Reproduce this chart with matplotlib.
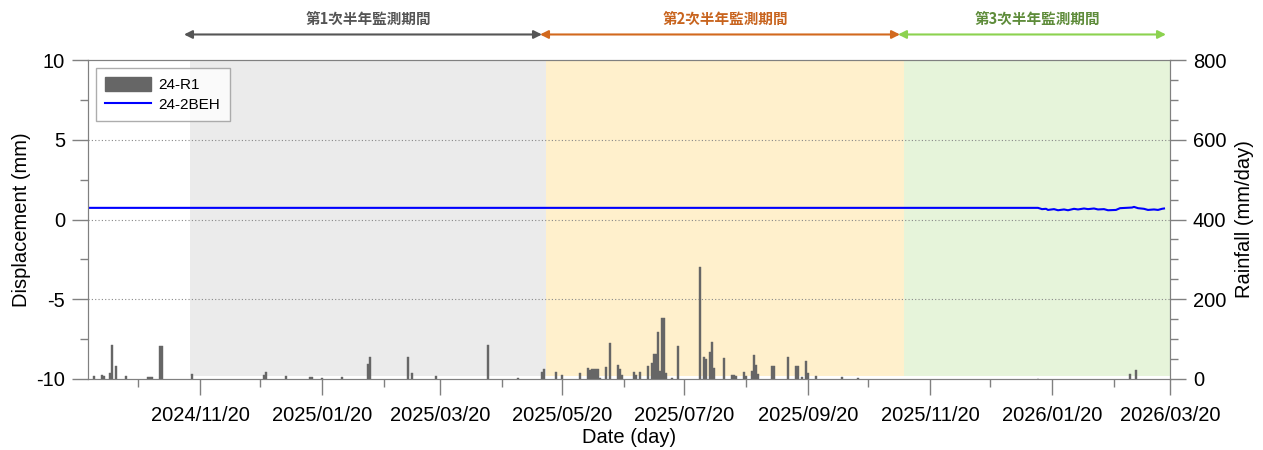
import pandas as pd
import numpy as np
import matplotlib
matplotlib.use('Agg')
import matplotlib.pyplot as plt
import matplotlib.dates as mdates
from matplotlib.patches import Patch
from matplotlib.lines import Line2D

plt.rcParams['font.family'] = ['Liberation Sans', 'Noto Sans CJK TC']
plt.rcParams['axes.unicode_minus'] = False

# 雨量 (mm/day)
rain_dates = ['2024-09-28', '2024-10-02', '2024-10-03', '2024-10-06', '2024-10-07', '2024-10-09',
              '2024-10-14', '2024-10-25', '2024-10-26', '2024-10-27', '2024-10-31', '2024-11-01',
              '2024-11-16', '2024-12-22', '2024-12-23', '2025-01-02', '2025-01-14', '2025-01-15',
              '2025-01-20', '2025-01-30', '2025-02-12', '2025-02-13', '2025-03-04', '2025-03-06',
              '2025-03-18', '2025-04-13', '2025-04-28', '2025-05-10', '2025-05-11', '2025-05-17',
              '2025-05-20', '2025-05-29', '2025-06-02', '2025-06-03', '2025-06-04', '2025-06-05',
              '2025-06-06', '2025-06-07', '2025-06-08', '2025-06-11', '2025-06-13', '2025-06-17',
              '2025-06-18', '2025-06-19', '2025-06-25', '2025-06-26', '2025-06-28', '2025-07-02',
              '2025-07-04', '2025-07-05', '2025-07-06', '2025-07-07', '2025-07-08', '2025-07-09',
              '2025-07-10', '2025-07-11', '2025-07-14', '2025-07-17', '2025-07-28', '2025-07-30',
              '2025-07-31', '2025-08-02', '2025-08-03', '2025-08-04', '2025-08-09', '2025-08-13',
              '2025-08-14', '2025-08-15', '2025-08-19', '2025-08-20', '2025-08-23', '2025-08-24',
              '2025-08-25', '2025-08-26', '2025-09-02', '2025-09-03', '2025-09-10', '2025-09-14',
              '2025-09-15', '2025-09-17', '2025-09-19', '2025-09-20', '2025-09-24', '2025-10-07',
              '2025-10-15', '2026-01-13', '2026-02-28', '2026-03-03']
rain_values = [7, 11, 8, 14, 85, 33,
               7, 5, 5, 4, 84, 83,
               13, 10, 17, 7, 4, 4,
               2, 4, 38, 56, 56, 14,
               7, 86, 2, 18, 24, 18,
               9, 16, 28, 22, 25, 25,
               25, 25, 3, 31, 91, 34,
               26, 9, 18, 10, 18, 33,
               39, 63, 63, 117, 20, 152,
               152, 14, 2, 83, 281, 56,
               50, 67, 92, 27, 52, 10,
               10, 7, 17, 7, 20, 60,
               35, 12, 32, 32, 54, 32,
               32, 4, 45, 15, 7, 4,
               3, 1, 12, 22]

# 位移 24-2BEH (mm)
disp_dates = ['2024-09-26', '2025-06-01', '2025-12-01', '2026-01-13', '2026-01-15', '2026-01-17',
              '2026-01-18', '2026-01-21', '2026-01-23', '2026-01-26', '2026-01-28', '2026-01-31',
              '2026-02-02', '2026-02-05', '2026-02-07', '2026-02-10', '2026-02-12', '2026-02-15',
              '2026-02-17', '2026-02-21', '2026-02-23', '2026-02-26', '2026-03-01', '2026-03-02',
              '2026-03-04', '2026-03-07', '2026-03-09', '2026-03-12', '2026-03-14', '2026-03-16',
              '2026-03-17']
disp_values = [0.73, 0.73, 0.73, 0.73, 0.65, 0.67, 0.60, 0.65, 0.58, 0.63, 0.58, 0.67,
               0.63, 0.69, 0.65, 0.69, 0.63, 0.65, 0.58, 0.60, 0.71, 0.73, 0.75, 0.79,
               0.71, 0.67, 0.60, 0.63, 0.60, 0.67, 0.69]

# 監測期間
period_names = ['第1次半年監測期間', '第2次半年監測期間', '第3次半年監測期間']
period_start = ['2024-11-15', '2025-05-12', '2025-11-07']
period_end = ['2025-05-12', '2025-11-07', '2026-03-20']
period_fill = ['#EBEBEB', '#FFF0CC', '#E6F4DA']
period_arrow = ['#555555', '#D2691E', '#8CD24F']
period_text = ['#555555', '#C8641E', '#5E8C3A']

rain_dates = pd.to_datetime(rain_dates)
disp_dates = pd.to_datetime(disp_dates)

fig = plt.figure(figsize=(12.63, 4.5), dpi=100)
ax = fig.add_axes([88 / 1263, 71 / 450, 1082 / 1263, 319 / 450])
ax2 = ax.twinx()

x_min = pd.Timestamp('2024-09-25')
x_max = pd.Timestamp('2026-03-20')

# 背景色塊 + 期間箭頭
for i in range(len(period_names)):
    s = pd.Timestamp(period_start[i])
    e = pd.Timestamp(period_end[i])
    ax.fill_between([s, e], -9.8, 10, color=period_fill[i], lw=0, zorder=0)
    ax.annotate('', xy=(s - pd.Timedelta(days=3), 1.08), xytext=(e - pd.Timedelta(days=2), 1.08),
                xycoords=('data', 'axes fraction'), textcoords=('data', 'axes fraction'),
                arrowprops=dict(arrowstyle='<|-|>', color=period_arrow[i], lw=1.5,
                                mutation_scale=12, shrinkA=0, shrinkB=0))
    ax.text(s + (e - s) / 2, 1.13, period_names[i], transform=ax.get_xaxis_transform(),
            ha='center', va='center', fontsize=10.5, fontweight='bold', color=period_text[i],
            family=['Noto Sans CJK TC', 'DejaVu Sans'])

for yv in [-5, 0, 5]:
    ax.axhline(yv, color='#888888', lw=0.8, ls=(0, (1, 2)), zorder=1)

ax.plot(disp_dates, disp_values, color='#0000FF', lw=1.5, zorder=3)
ax2.bar(rain_dates, rain_values, width=1.0, color='#666666', edgecolor='#666666', lw=0.3, zorder=2)

ax.set_xlim(x_min, x_max)
ax.set_ylim(-10, 10)
ax2.set_ylim(0, 800)
ax.set_yticks([-10, -5, 0, 5, 10])
ax.set_yticks([-7.5, -2.5, 2.5, 7.5], minor=True)
ax2.set_yticks([0, 200, 400, 600, 800])
ax2.set_yticks(np.arange(50, 800, 50), minor=True)

ax.xaxis.set_major_locator(mdates.MonthLocator(bymonth=[1, 3, 5, 7, 9, 11], bymonthday=20))
ax.xaxis.set_minor_locator(mdates.MonthLocator(bymonth=[2, 4, 6, 8, 10, 12], bymonthday=20))
ax.xaxis.set_major_formatter(mdates.DateFormatter('%Y/%m/%d'))

for a in [ax, ax2]:
    for sp in a.spines.values():
        sp.set_color('#808080')
    a.tick_params(which='major', length=11.5, width=1, color='#808080', labelsize=14.5, pad=5)
    a.tick_params(which='minor', length=6, width=1, color='#808080')
ax.tick_params(axis='x', which='major', pad=8)

ax.set_xlabel('Date (day)', fontsize=14.5, labelpad=2)
ax.set_ylabel('Displacement (mm)', fontsize=14.5, labelpad=4)
ax2.set_ylabel('Rainfall (mm/day)', fontsize=14.5, labelpad=6)

handles = [Patch(facecolor='#666666', edgecolor='#666666'),
           Line2D([0], [0], color='#0000FF', lw=1.5)]
leg = ax2.legend(handles, ['24-R1', '24-2BEH'], loc='upper left', fontsize=11,
                 frameon=True, fancybox=False, edgecolor='#999999', handlelength=3.0,
                 handleheight=1.0, borderpad=0.6, labelspacing=0.3, handletextpad=0.5,
                 borderaxespad=0, bbox_to_anchor=(0.0074, 0.975))
leg.get_frame().set_linewidth(1)

fig.savefig('out.png', dpi=100)
